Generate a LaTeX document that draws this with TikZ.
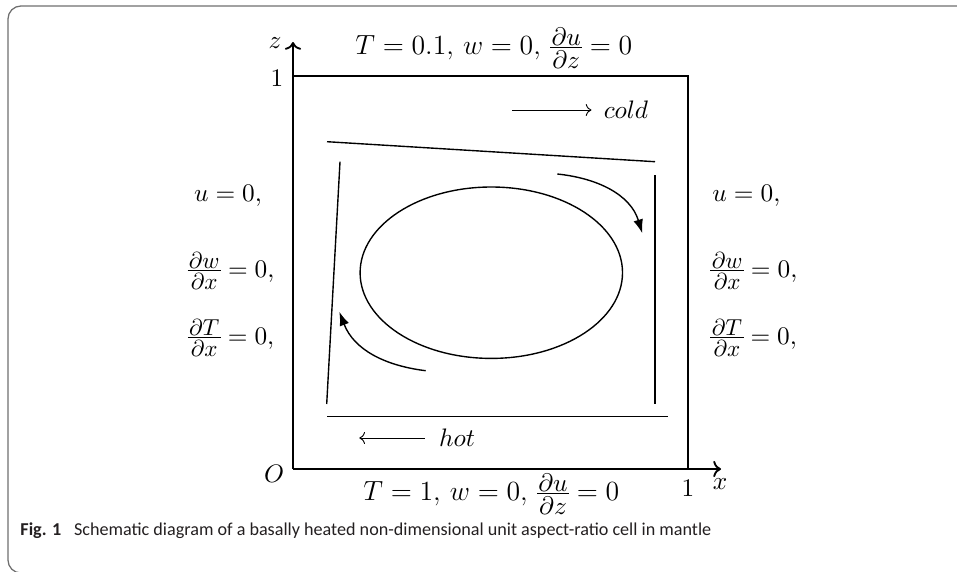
\documentclass[tikz,border=0pt]{standalone}
\usepackage{fontspec}
\usepackage{amsmath,amssymb}
\usetikzlibrary{arrows.meta,positioning}
\newfontfamily\captionfont{Carlito}
\definecolor{frameGray}{RGB}{110,110,110}
\definecolor{captionInk}{RGB}{35,31,32}
% compact partial-derivative fraction, optional size of its parts
\newcommand{\pfrac}[3][10]{\mathord{\vcenter{\offinterlineskip\fontsize{#1}{#1}\selectfont\halign{\hfil\kern.6pt$##$\kern.6pt\hfil\cr #2\cr\noalign{\kern.9pt\hrule height .5pt\kern1.1pt}#3\cr}}}}
\tikzset{
  axisline/.style={line width=.8pt},
  cellline/.style={line width=.6pt},
  flowarrow/.style={line width=.6pt,-{Latex[length=6pt,width=4.2pt]}},
  bclabel/.style={inner sep=0pt,font=\fontsize{10.6}{12.5}\selectfont},
  bcwide/.style={inner sep=0pt,anchor=west,font=\fontsize{12.4}{14.5}\selectfont},
  flowword/.style={font=\fontsize{10.8}{12.5}\selectfont}
}

\begin{document}
\begin{tikzpicture}[x=0.4329pt,y=0.4329pt]
\useasboundingbox (0,0) rectangle (957,571);
\begin{scope}
\clip (0,0) rectangle (957,571);
\draw[frameGray,line width=.55pt,rounded corners=5.6pt] (8,-2) rectangle (1000,565);
\end{scope}
% axes and unit cell
\coordinate (O) at (293,102);
\coordinate (xend) at (721,102);
\coordinate (zend) at (293,529);
\draw[axisline,->] (O) -- (xend);
\draw[axisline,->] (O) -- (zend);
\draw[axisline] (293,495) -| (688,102);
\node[flowword] (lblO) at (274,97) {$O$};
\node[flowword] (lblz) at (275,528) {$z$};
\node[flowword] (lblzone) at (277,493) {$1$};
\node[flowword] (lblxone) at (688,83) {$1$};
\node[flowword] (lblx) at (720,87) {$x$};
% boundary conditions
\node[bcwide] (bctop) at (355,523) {$T=0.1,\, w=0,\, \pfrac[10.6]{\partial u}{\partial z}=0$};
\node[bcwide] (bcbot) at (363,77) {$T=1,\, w=0,\, \pfrac[10.6]{\partial u}{\partial z}=0$};
\node[bclabel] (bcleftu) at (228,375) {$u=0,$};
\node[bclabel] (bcleftw) at (231,300) {$\pfrac[10.2]{\partial w}{\partial x}=0,$};
\node[bclabel] (bcleftT) at (231,233) {$\pfrac[10.2]{\partial T}{\partial x}=0,$};
\node[bclabel,anchor=west] (bcrightu) at (712,375) {$u=0,$};
\node[bclabel,anchor=west] (bcrightw) at (710,300) {$\pfrac[10.2]{\partial w}{\partial x}=0,$};
\node[bclabel,anchor=west] (bcrightT) at (710,233) {$\pfrac[10.2]{\partial T}{\partial x}=0,$};
% cold and hot
\node[flowword] (cold) at (626,461) {$cold$};
\coordinate[left=36pt of cold] (coldtail);
\draw[line width=.4pt,->,shorten >=1.8pt] (coldtail) -- (cold);
\node[flowword] (hot) at (457,133) {$hot$};
\coordinate[left=31pt of hot] (hothead);
\draw[line width=.4pt,->,shorten <=2.7pt] (hot) -- (hothead);
% convection cell
\draw[cellline] (327,429.3) -- (655,409.3);
\draw[cellline] (340,409.3) -- (326.7,167);
\draw[cellline] (655,396) -- (655,167);
\draw[cellline] (327,154.3) -- (668,154.3);
\draw[cellline] (491.3,298.3) ellipse [x radius=56.8pt,y radius=37.1pt];
\draw[flowarrow] (557.3,397) to[out=-6,in=107] (642.3,337.7);
\draw[flowarrow] (425.7,200.3) to[out=173,in=-69] (339.3,259.3);
% caption
\node[anchor=base west,inner sep=0pt,text=captionInk] (caption) at (20,36)
  {\captionfont\fontsize{7.85}{9.4}\selectfont\textbf{Fig. 1}\hspace{0.7em}Schematic diagram of a basally heated non-dimensional unit aspect-ratio cell in mantle};
\end{tikzpicture}
\end{document}
